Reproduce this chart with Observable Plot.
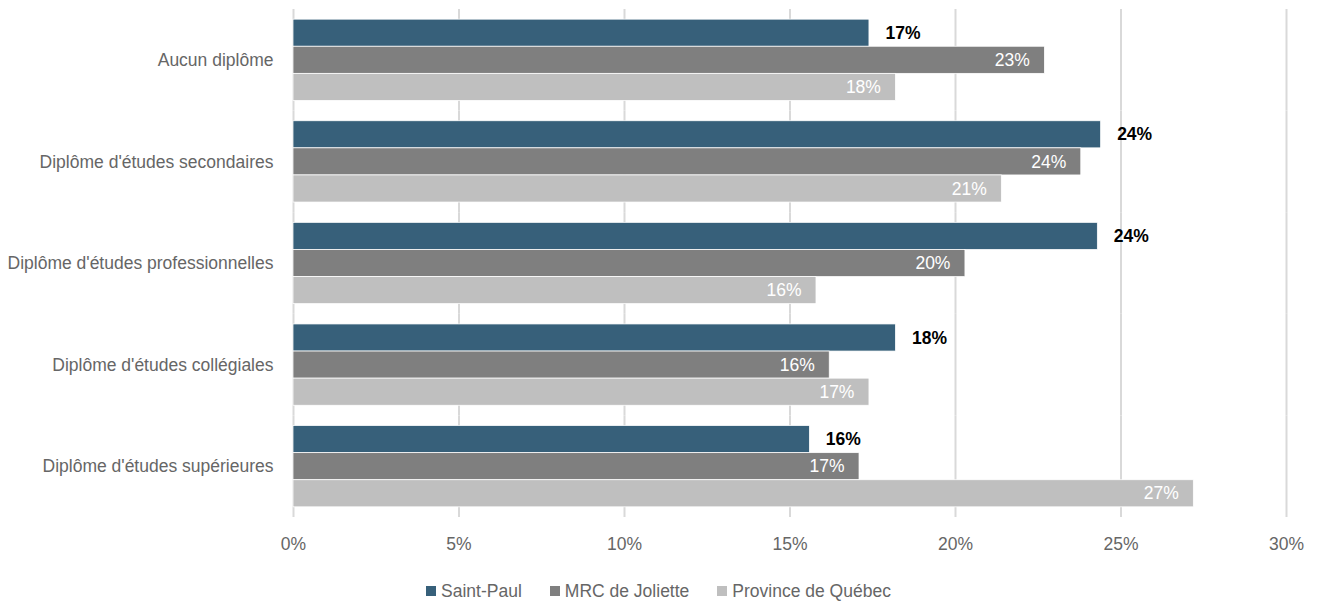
<!DOCTYPE html>
<html>
<head>
<meta charset="utf-8">
<script src="https://cdn.jsdelivr.net/npm/d3@7"></script>
<script src="https://cdn.jsdelivr.net/npm/@observablehq/plot@0.6"></script>
<style>
  html, body { margin: 0; padding: 0; background: #fff; }
  body { width: 1317px; font-family: "Liberation Sans", Arial, sans-serif; }
  #legend { display: flex; justify-content: center; align-items: center; gap: 28px;
            margin-top: 21px; font-size: 17.5px; color: #666; line-height: 20px; }
  #legend .item { display: flex; align-items: center; gap: 5px; }
  #legend .sw { width: 10px; height: 10px; display: inline-block; }
</style>
</head>
<body>
<div id="chart"></div>
<div id="legend"></div>
<script>
const categories = [
  "Aucun diplôme",
  "Diplôme d'études secondaires",
  "Diplôme d'études professionnelles",
  "Diplôme d'études collégiales",
  "Diplôme d'études supérieures"
];
const series = ["Saint-Paul", "MRC de Joliette", "Province de Québec"];
const saintPaul   = [17.4, 24.4, 24.3, 18.2, 15.6];
const mrcJoliette = [22.7, 23.8, 20.3, 16.2, 17.1];
const quebec      = [18.2, 21.4, 15.8, 17.4, 27.2];
const xTicks = [0, 5, 10, 15, 20, 25, 30];
const palette = ["#37607A", "#7F7F7F", "#BFBFBF"];

const seriesValues = [saintPaul, mrcJoliette, quebec];
const rows = [];
categories.forEach((c, i) => {
  series.forEach((s, j) => rows.push({category: c, series: s, value: seriesValues[j][i]}));
});
const fmt = d => Math.round(d.value) + "%";

const chart = Plot.plot({
  width: 1317,
  height: 560,
  marginLeft: 293,
  marginRight: 31,
  marginTop: 9,
  marginBottom: 43,
  style: {fontFamily: '"Liberation Sans", Arial, sans-serif', fontSize: "17.5px", color: "#666", background: "#fff"},
  x: {domain: [0, 30], ticks: xTicks, tickFormat: d => d + "%", tickSize: 0, tickPadding: 20, label: null},
  y: {domain: series, paddingInner: 0, paddingOuter: 0.375, round: false, axis: null},
  fy: {domain: categories, padding: 0, round: false, axis: "left", tickSize: 0, tickPadding: 20, label: null},
  color: {domain: series, range: palette},
  marks: [
    Plot.ruleX(xTicks, {stroke: "#D9D9D9", strokeWidth: 2}),
    Plot.barX(rows, {x: "value", y: "series", fy: "category", fill: "series", stroke: "white", strokeWidth: 0.75}),
    Plot.text(rows.filter(d => d.series === series[0]), {
      x: "value", y: "series", fy: "category", text: fmt, textAnchor: "start", dx: 16,
      fill: "#000", fontWeight: "bold", fontSize: 17.5
    }),
    Plot.text(rows.filter(d => d.series !== series[0]), {
      x: "value", y: "series", fy: "category", text: fmt, textAnchor: "end", dx: -15,
      fill: "#fff", fontSize: 17.5
    })
  ]
});
document.getElementById("chart").appendChild(chart);

const legend = document.getElementById("legend");
series.forEach((s, i) => {
  const item = document.createElement("span");
  item.className = "item";
  const sw = document.createElement("span");
  sw.className = "sw";
  sw.style.background = palette[i];
  const t = document.createElement("span");
  t.textContent = s;
  item.appendChild(sw);
  item.appendChild(t);
  legend.appendChild(item);
});
</script>
</body>
</html>
